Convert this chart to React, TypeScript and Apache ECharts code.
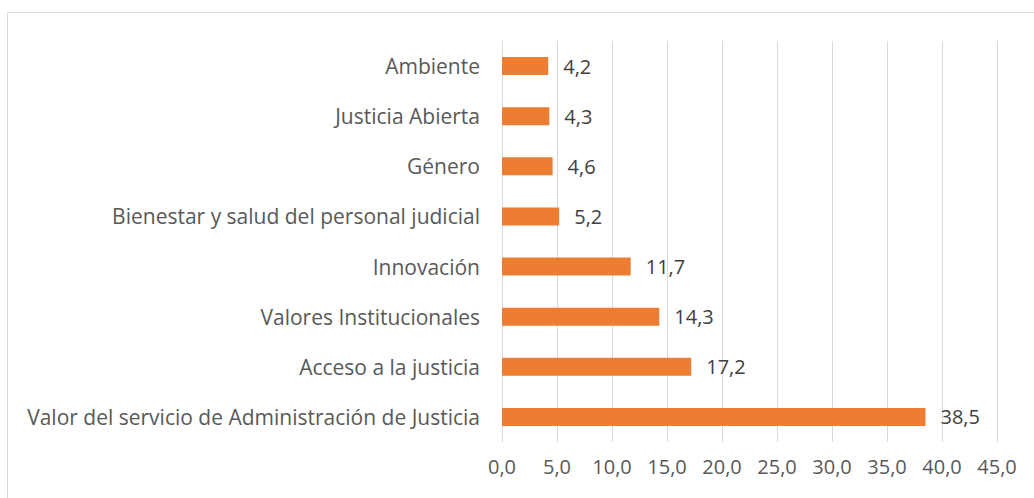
import React, { useEffect, useRef } from "react";
import * as echarts from "echarts";

const categories = [
  "Valor del servicio de Administración de Justicia",
  "Acceso a la justicia",
  "Valores Institucionales",
  "Innovación",
  "Bienestar y salud del personal judicial",
  "Género",
  "Justicia Abierta",
  "Ambiente",
];
const values = [38.5, 17.2, 14.3, 11.7, 5.2, 4.6, 4.3, 4.2];
const axisMin = 0;
const axisMax = 45;
const axisStep = 5;

const fmt = (v: number) => v.toFixed(1).replace(".", ",");

export default function App() {
  const ref = useRef<HTMLDivElement>(null);
  useEffect(() => {
    document.body.style.margin = "0";
    const chart = echarts.init(ref.current!, null, { renderer: "svg" });
    const font = "'Open Sans', 'Noto Sans', sans-serif";
    chart.setOption({
      animation: false,
      textStyle: { fontFamily: font },
      graphic: [
        {
          type: "rect",
          shape: { x: 7.5, y: 12.5, width: 1030, height: 500 },
          style: { fill: "none", stroke: "#d9d9d9", lineWidth: 1 },
          silent: true,
        },
      ],
      grid: { left: 502, right: 37, top: 41, bottom: 56 },
      xAxis: {
        type: "value",
        min: axisMin,
        max: axisMax,
        interval: axisStep,
        axisLine: { show: false },
        axisTick: { show: false },
        splitLine: { show: true, lineStyle: { color: "#d9d9d9", width: 1 } },
        axisLabel: {
          formatter: (v: number) => fmt(v),
          color: "#595959",
          fontSize: 20,
          margin: 14,
          fontFamily: font,
        },
      },
      yAxis: {
        type: "category",
        data: categories,
        axisLine: { show: true, lineStyle: { color: "#d9d9d9" } },
        axisTick: { show: false },
        axisLabel: { color: "#595959", fontSize: 21, margin: 22, fontFamily: font },
      },
      series: [
        {
          type: "bar",
          data: values,
          barWidth: "36%",
          itemStyle: { color: "#ED7D31" },
          label: {
            show: true,
            position: "right",
            distance: 15,
            formatter: (p: any) => fmt(p.value),
            color: "#404040",
            fontSize: 20,
            fontFamily: font,
          },
        },
      ],
    });
    return () => chart.dispose();
  }, []);
  return <div ref={ref} style={{ width: 1034, height: 498 }} />;
}
